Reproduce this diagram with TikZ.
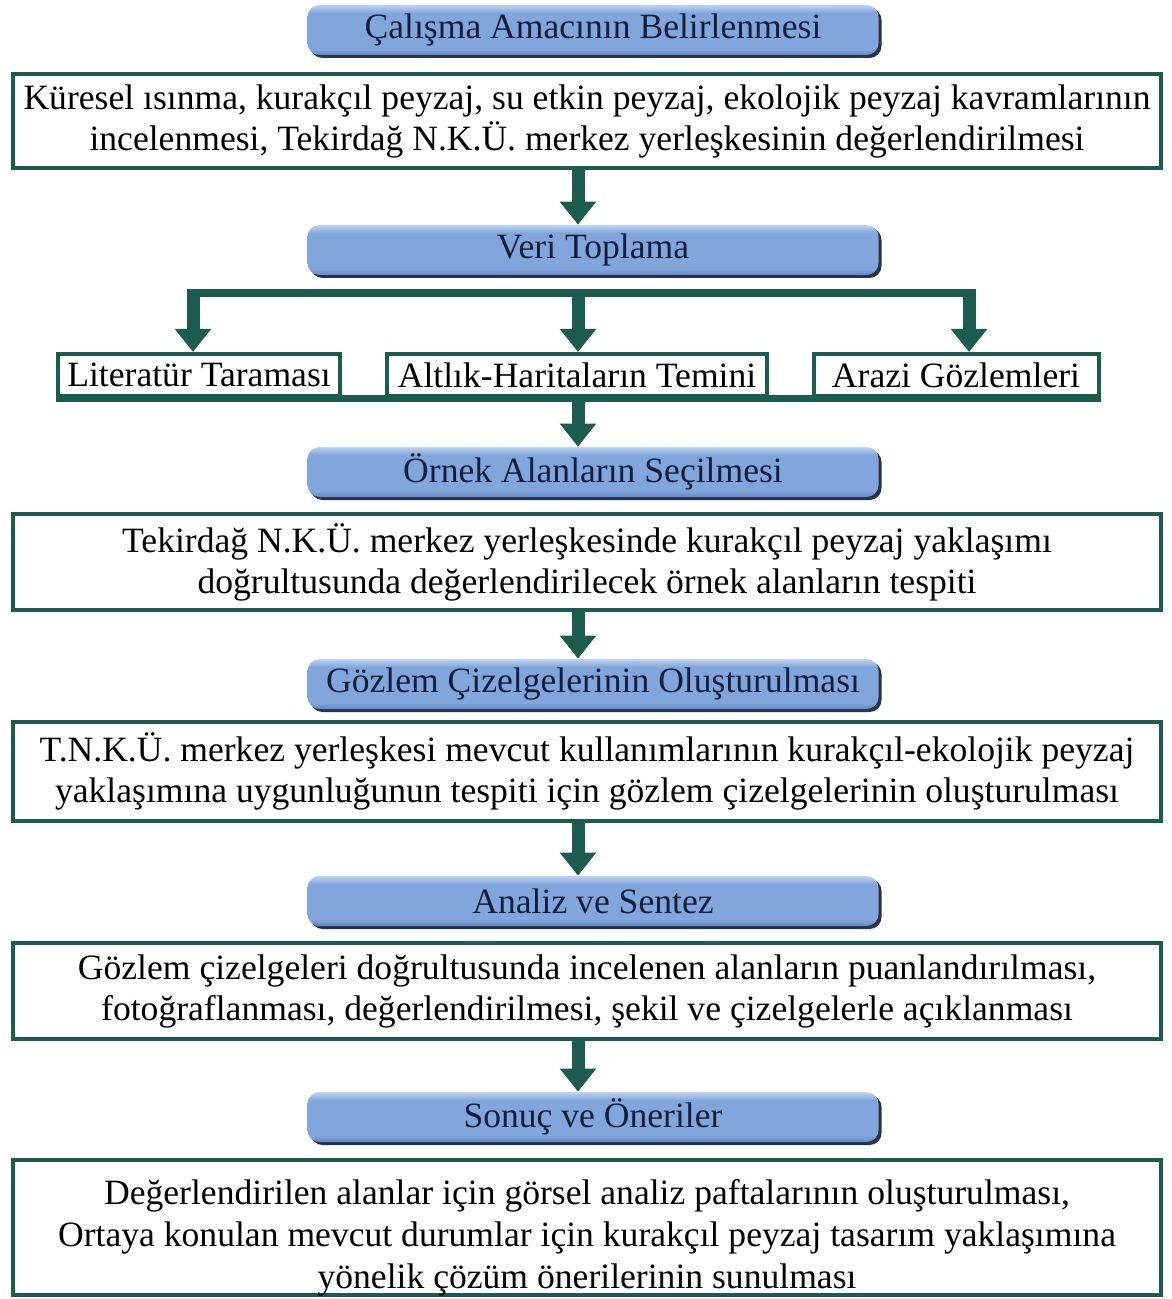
\documentclass[tikz,border=0pt]{standalone}
\usepackage{fontspec}
\setmainfont{Liberation Serif}
\usetikzlibrary{arrows.meta,shadows}
\definecolor{frame}{RGB}{28,92,78}
\definecolor{headtop}{RGB}{190,210,242}
\definecolor{headmid}{RGB}{128,166,220}
\definecolor{headbot}{RGB}{100,136,196}
\definecolor{headrim}{RGB}{40,50,72}
\definecolor{headtext}{RGB}{20,30,60}
\pgfdeclareverticalshading{headshade}{100bp}{color(0bp)=(headbot); color(25bp)=(headbot);
  color(31bp)=(headmid); color(67bp)=(headmid); color(75bp)=(headtop); color(100bp)=(headtop)}
\tikzset{
  head/.style={rounded corners=6pt, shading=headshade,
    minimum width=285.5pt, minimum height=25pt, text=headtext,
    font=\fontsize{17.8}{20}\selectfont,
    drop shadow={shadow xshift=1.5pt, shadow yshift=-1.5pt, fill=headrim, opacity=1}},
  textbox/.style={draw=frame, line width=2pt, fill=white, minimum width=574pt,
    align=center, inner sep=2pt, font=\fontsize{17.8}{20.5}\selectfont},
  smallbox/.style={draw=frame, line width=2pt, fill=white, minimum height=21pt,
    inner sep=1pt, font=\fontsize{17.8}{20}\selectfont},
  fatarrow/.style={draw=frame, line width=6.5pt, -{Triangle[width=17.5pt,length=11.5pt]}},
  bar/.style={draw=frame, line width=4pt}
}
\begin{document}
\begin{tikzpicture}[x=0.5pt,y=-0.5pt]
\useasboundingbox (0,0) rectangle (1171,1299);
\coordinate (axis) at (578,0);
\node[head] (amac) at (593,30) {Çalışma Amacının Belirlenmesi};
\node[textbox, minimum height=47pt] (kavram) at (587,121)
  {Küresel ısınma, kurakçıl peyzaj, su etkin peyzaj, ekolojik peyzaj kavramlarının\\
   incelenmesi, Tekirdağ N.K.Ü. merkez yerleşkesinin değerlendirilmesi};
\node[head] (veri) at (593,250) {Veri Toplama};
\coordinate (barL) at (193,293);
\coordinate (barR) at (969,293);
\node[smallbox, minimum width=141pt] (lit) at (199,375) {Literatür Taraması};
\node[smallbox, minimum width=190pt] (altlik) at (577,375) {Altlık-Haritaların Temini};
\node[smallbox, minimum width=142.5pt] (arazi) at (956,375) {Arazi Gözlemleri};
\node[head] (ornek) at (593,472) {Örnek Alanların Seçilmesi};
\node[textbox, minimum height=48pt] (tespit) at (587,562)
  {Tekirdağ N.K.Ü. merkez yerleşkesinde kurakçıl peyzaj yaklaşımı\\
   doğrultusunda değerlendirilecek örnek alanların tespiti};
\node[head] (gozlem) at (593,684) {Gözlem Çizelgelerinin Oluşturulması};
\node[textbox, minimum height=49.5pt] (cizelge) at (587,771)
  {T.N.K.Ü. merkez yerleşkesi mevcut kullanımlarının kurakçıl-ekolojik peyzaj\\
   yaklaşımına uygunluğunun tespiti için gözlem çizelgelerinin oluşturulması};
\node[head] (analiz) at (593,901) {Analiz ve Sentez};
\node[textbox, minimum height=48pt] (puan) at (587,991)
  {Gözlem çizelgeleri doğrultusunda incelenen alanların puanlandırılması,\\
   fotoğraflanması, değerlendirilmesi, şekil ve çizelgelerle açıklanması};
\node[head] (sonuc) at (593,1117) {Sonuç ve Öneriler};
\node[textbox, minimum height=67.5pt, text depth=0pt, font=\fontsize{17.8}{21}\selectfont] (oneri) at (587,1227)
  {\rule{0pt}{19pt}Değerlendirilen alanlar için görsel analiz paftalarının oluşturulması,\\
   Ortaya konulan mevcut durumlar için kurakçıl peyzaj tasarım yaklaşımına\\
   yönelik çözüm önerilerinin sunulması};
\draw[fatarrow] (kavram.south -| axis) -- (veri.north -| axis);
\draw[bar, shorten <=-3.25pt, shorten >=-3.25pt] (barL) -- (barR);
\draw[fatarrow] (barL) -- (barL |- lit.north);
\draw[fatarrow] (barL -| axis) -- (altlik.north -| axis);
\draw[fatarrow] (barR) -- (barR |- arazi.north);
\draw[frame, line width=3.5pt] (lit.south west) -- (arazi.south east);
\draw[fatarrow] (altlik.south -| axis) -- (ornek.north -| axis);
\draw[fatarrow] (tespit.south -| axis) -- (gozlem.north -| axis);
\draw[fatarrow] (cizelge.south -| axis) -- (analiz.north -| axis);
\draw[fatarrow] (puan.south -| axis) -- (sonuc.north -| axis);
\end{tikzpicture}
\end{document}
